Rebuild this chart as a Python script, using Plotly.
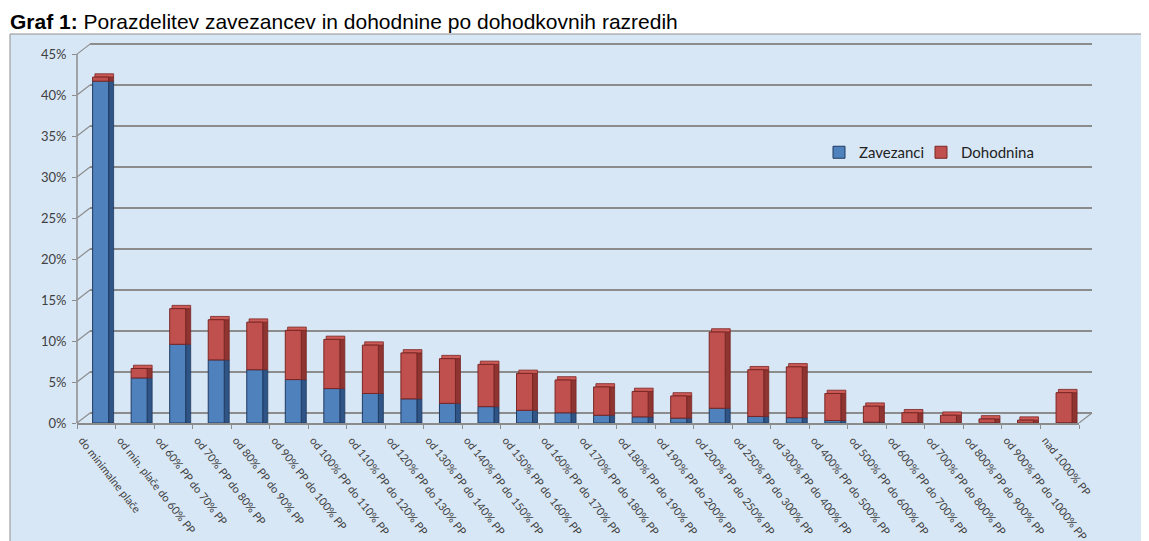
import plotly.graph_objects as go

categories = [
    "do minimalne plače", "od min. plače do 60% PP", "od 60% PP do 70% PP",
    "od 70% PP do 80% PP", "od 80% PP do 90% PP", "od 90% PP do 100% PP",
    "od 100% PP do 110% PP", "od 110% PP do 120% PP", "od 120% PP do 130% PP",
    "od 130% PP do 140% PP", "od 140% PP do 150% PP", "od 150% PP do 160% PP",
    "od 160% PP do 170% PP", "od 170% PP do 180% PP", "od 180% PP do 190% PP",
    "od 190% PP do 200% PP", "od 200% PP do 250% PP", "od 250% PP do 300% PP",
    "od 300% PP do 400% PP", "od 400% PP do 500% PP", "od 500% PP do 600% PP",
    "od 600% PP do 700% PP", "od 700% PP do 800% PP", "od 800% PP do 900% PP",
    "od 900% PP do 1000% PP", "nad 1000% PP",
]

zavezanci = [41.7, 5.5, 9.6, 7.7, 6.5, 5.3, 4.2, 3.6, 2.95, 2.4, 2.0, 1.55, 1.25,
             0.95, 0.75, 0.6, 1.8, 0.8, 0.65, 0.3, 0.1, 0.05, 0.03, 0.02, 0.01, 0.03]
dohodnina = [0.5, 1.15, 4.35, 4.9, 5.8, 6.0, 6.0, 5.9, 5.6, 5.45, 5.15, 4.5, 4.0,
             3.45, 3.1, 2.7, 9.3, 5.7, 6.2, 3.3, 1.95, 1.2, 0.92, 0.48, 0.34, 3.67]

y_ticks = [0, 5, 10, 15, 20, 25, 30, 35, 40, 45]
y_tick_labels = ["0%", "5%", "10%", "15%", "20%", "25%", "30%", "35%", "40%", "45%"]

# styling
BLUE, BLUE_SIDE, BLUE_EDGE = "#4f81bd", "#2f5486", "#1f3a60"
RED, RED_SIDE, RED_EDGE = "#c0504d", "#8e3431", "#7a2623"
RED_TOP = "#cc5a56"
GRID = "#8c8c8c"
BG = "#d8e7f6"
FONT = "Lato"

FRONT_OFF, FRONT_W = -0.095, 0.415
SIDE_OFF, SIDE_W = FRONT_OFF + FRONT_W, 0.13
CAP_OFF, CAP_W, CAP_H = FRONT_OFF + 0.06, FRONT_W + 0.07, 0.4

totals = [z + d for z, d in zip(zavezanci, dohodnina)]

fig = go.Figure()

# empty trace that creates the back-wall grid subplot
fig.add_trace(go.Scatter(x=[], y=[], xaxis="x", yaxis="y", showlegend=False,
                         hoverinfo="skip"))

common = dict(xaxis="x2", yaxis="y2")

# side faces
fig.add_trace(go.Bar(x=categories, y=zavezanci, offset=SIDE_OFF, width=SIDE_W,
                     marker=dict(color=BLUE_SIDE, line=dict(color=BLUE_EDGE, width=0.8)),
                     showlegend=False, hoverinfo="skip", **common))
fig.add_trace(go.Bar(x=categories, y=dohodnina, base=zavezanci, offset=SIDE_OFF, width=SIDE_W,
                     marker=dict(color=RED_SIDE, line=dict(color=RED_EDGE, width=0.8)),
                     showlegend=False, hoverinfo="skip", **common))
# top caps
fig.add_trace(go.Bar(x=categories, y=[CAP_H] * len(categories), base=totals,
                     offset=CAP_OFF, width=CAP_W,
                     marker=dict(color=RED_TOP, line=dict(color=RED_EDGE, width=0.8)),
                     showlegend=False, hoverinfo="skip", **common))
# front faces
fig.add_trace(go.Bar(name="Zavezanci", x=categories, y=zavezanci,
                     offset=FRONT_OFF, width=FRONT_W, legend="legend",
                     marker=dict(color=BLUE, line=dict(color=BLUE_EDGE, width=1)),
                     **common))
fig.add_trace(go.Bar(name="Dohodnina", x=categories, y=dohodnina, base=zavezanci,
                     offset=FRONT_OFF, width=FRONT_W, legend="legend2",
                     marker=dict(color=RED, line=dict(color=RED_EDGE, width=1)),
                     **common))

# page body has an 8px margin: figure origin sits at (8, 8) on screen
SHIFT = 8
X0, Y0 = 77, 423          # screen position of plot-area left / bottom
W, H = 1149, 541
pw, ph = 1015, 382
L = X0 - SHIFT
T = Y0 - ph - SHIFT
R = W - L - pw
B = H - T - ph
front_w = 1002
px_per = ph / 46.6
depth = 10 / px_per
BOX_TOP = 34


def xp(px):
    return (px - X0) / pw


def yp(py):
    return (Y0 - py) / ph


legend_style = dict(orientation="h", xanchor="left", yanchor="top",
                    bgcolor="rgba(0,0,0,0)", itemwidth=30,
                    font=dict(family=FONT, size=15, color="#222222"))

fig.update_layout(
    width=W, height=H, autosize=False,
    margin=dict(l=L, r=R, t=T, b=B, pad=0, autoexpand=False),
    paper_bgcolor="white",
    plot_bgcolor="rgba(0,0,0,0)",
    barmode="overlay",
    font=dict(family=FONT, color="#404040"),
    xaxis=dict(domain=[13 / pw, 1], range=[0, 1], visible=False, showgrid=False,
               zeroline=False, anchor="y", automargin=False),
    yaxis=dict(domain=[0, 1], range=[-depth, 46.6 - depth], tickvals=y_ticks,
               showticklabels=False, ticks="", showgrid=True, gridcolor=GRID,
               gridwidth=1.5, zeroline=False, showline=False, anchor="x",
               automargin=False),
    xaxis2=dict(domain=[0, front_w / pw], range=[-0.5, len(categories) - 0.5],
                type="category", anchor="y2", showgrid=False, zeroline=False,
                showline=True, linecolor=GRID, linewidth=1.5,
                ticks="outside", tickson="boundaries", ticklen=4, tickcolor=GRID,
                tickangle=52, tickfont=dict(family=FONT, size=11, color="#404040"),
                ticklabelshift=-14, ticklabelstandoff=5, automargin=False),
    yaxis2=dict(domain=[0, 1], range=[0, 46.6], anchor="x2", tickvals=y_ticks,
                ticktext=y_tick_labels, ticks="outside", ticklen=4, tickcolor=GRID,
                showgrid=False, zeroline=False, showline=False, automargin=False,
                ticklabelstandoff=3,
                tickfont=dict(family=FONT, size=13, color="#404040")),
    legend=dict(x=xp(819), y=yp(136), **legend_style),
    legend2=dict(x=xp(921), y=yp(136), **legend_style),
    showlegend=True,
)

# chart box (background panel)
fig.add_shape(type="rect", xref="paper", yref="paper",
              x0=xp(10), x1=xp(W + 20), y0=yp(H + 20), y1=yp(BOX_TOP),
              fillcolor=BG, line=dict(color="#8f8f8f", width=1), layer="below")
# front vertical axis line
fig.add_shape(type="line", xref="paper", yref="y2", x0=0, x1=0, y0=0, y1=45,
              line=dict(color=GRID, width=1.5))
# wall / floor connectors (front edge to back wall)
for v in y_ticks:
    fig.add_shape(type="line", xref="paper", yref="y2", x0=0, x1=13 / pw,
                  y0=v, y1=v + depth, line=dict(color=GRID, width=1.2))
fig.add_shape(type="line", xref="paper", yref="y2", x0=front_w / pw, x1=1,
              y0=0, y1=depth, line=dict(color=GRID, width=1.2))

fig.add_annotation(
    text="<b>Graf 1:</b> Porazdelitev zavezancev in dohodnine po dohodkovnih razredih",
    xref="paper", yref="paper", x=xp(SHIFT), y=yp(SHIFT),
    xanchor="left", yanchor="top", showarrow=False,
    font=dict(family="Liberation Sans", size=21, color="black"))

fig.write_html("out.html")
